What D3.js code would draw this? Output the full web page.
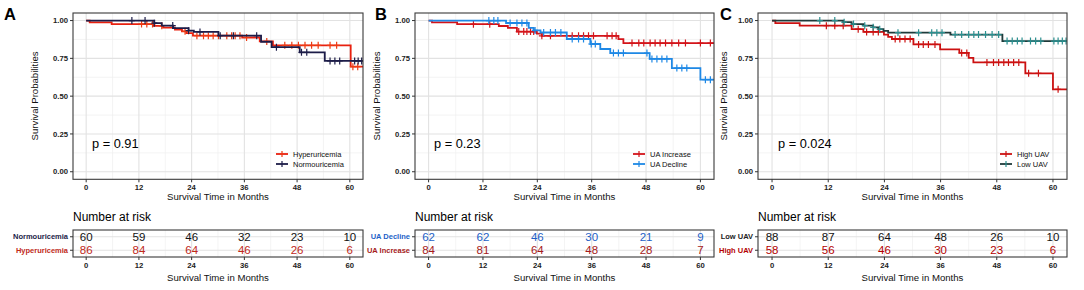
<!DOCTYPE html>
<html>
<head>
<meta charset="utf-8">
<script src="https://cdn.jsdelivr.net/npm/d3@7"></script>
<style>
body{margin:0;background:#fff;}
svg{font-family:"Liberation Sans",Arial,sans-serif;}
</style>
</head>
<body>
<svg id="chart" width="1084" height="290"></svg>
<script>
// axis ticks
let timeTicks = [0, 12, 24, 36, 48, 60];
let timeMinor = [6, 18, 30, 42, 54];
let survTicks = [0, 0.25, 0.5, 0.75, 1];
let survMinor = [0.125, 0.375, 0.625, 0.875];

// panel A
let hyperTimes = [0, 0.8, 5.8, 15.2, 17.5, 20.2, 21.8, 22.8, 24.3, 35.5, 39.5, 42.5, 60.2];
let hyperSurv = [1, 0.988, 0.977, 0.965, 0.953, 0.941, 0.929, 0.917, 0.900, 0.888, 0.862, 0.836, 0.695];
let hyperCensor = [12.6, 13.8, 15.1, 17.2, 22.5, 25.2, 26.7, 27.8, 28.9, 30.1, 32, 33.1, 33.9, 35, 36.5, 41.1, 45.2, 46.8, 48.3, 49.8, 51.3, 52.8, 55.5, 57, 60.7, 61.8];
let normoTimes = [0, 15.5, 17.2, 19.8, 23.3, 24.5, 30.1, 39.8, 42.2, 48.6, 54.3];
let normoSurv = [1, 0.983, 0.967, 0.950, 0.933, 0.925, 0.900, 0.860, 0.824, 0.790, 0.733];
let normoCensor = [10.4, 13.4, 15.5, 19.7, 23.3, 25.9, 30.5, 33.5, 38.8, 43.3, 49, 50.2, 55.5, 56.6, 57.7, 61.1, 61.9, 62.7];
let hyperRisk = [86, 84, 64, 46, 26, 6];
let normoRisk = [60, 59, 46, 32, 23, 10];

// panel B
let incTimes = [0, 0.75, 6.3, 15.5, 17.5, 19.5, 23.9, 25.0, 41.9, 43.0];
let incSurv = [1, 0.988, 0.976, 0.964, 0.952, 0.927, 0.913, 0.899, 0.877, 0.851];
let incCensor = [9.9, 13.5, 19.9, 21, 21.7, 22.5, 23.2, 25, 26.9, 31.7, 33.1, 34.2, 35.3, 36.4, 39.4, 40.5, 41.4, 44.9, 46.4, 47.5, 48.9, 50, 51.1, 52.3, 53.7, 55.2, 56.7, 60, 62.2];
let decTimes = [0, 17.1, 22.1, 23.2, 24.7, 30.5, 35.7, 37.9, 40.1, 48.8, 53.7, 60.0];
let decSurv = [1, 0.984, 0.951, 0.935, 0.921, 0.878, 0.845, 0.812, 0.785, 0.746, 0.686, 0.609];
let decCensor = [13.3, 14.4, 15.3, 18, 19.5, 20.6, 21.7, 23.5, 25.4, 26.9, 28, 29.2, 31.7, 33.1, 34.2, 35.9, 36.8, 40.8, 41.9, 43, 48.2, 49.3, 50.4, 51.5, 52.6, 54.8, 55.9, 57, 61.1, 62.2];
let incRisk = [84, 81, 64, 48, 28, 7];
let decRisk = [62, 62, 46, 30, 21, 9];

// panel C
let highTimes = [0, 0.7, 5.9, 17, 19.5, 23.9, 24.8, 25.6, 30.2, 35.9, 40, 42, 43, 54.1, 60];
let highSurv = [1, 0.983, 0.966, 0.943, 0.925, 0.907, 0.892, 0.878, 0.842, 0.809, 0.786, 0.753, 0.723, 0.651, 0.545];
let highCensor = [11.6, 13.4, 15.2, 18.4, 20.2, 21.6, 22.7, 26.3, 27.3, 28.4, 29.5, 31.3, 32.3, 33.4, 34.8, 40.5, 41.6, 45.9, 47.3, 48.4, 49.5, 50.5, 51.6, 52.7, 54.8, 56.9, 61.1];
let lowTimes = [0, 15.2, 17, 19.5, 21.6, 22.7, 23.8, 24.8, 38.1, 49.2];
let lowSurv = [1, 0.989, 0.977, 0.966, 0.955, 0.943, 0.932, 0.920, 0.907, 0.864];
let lowCensor = [10.2, 13.4, 15.4, 17.4, 19.8, 21.6, 23, 26.9, 31.3, 34.1, 35.2, 36.3, 39.1, 40.5, 42, 43.1, 44.1, 45.6, 47, 48.4, 50.2, 51.3, 52.4, 53.4, 55.2, 56.3, 57.4, 60.2, 61.1, 62, 62.8];
let highRisk = [58, 56, 46, 30, 23, 6];
let lowRisk = [88, 87, 64, 48, 26, 10];

let panels = [
  {letter: 'A', letterX: 4, left: 73, right: 363, ylabX: 34, pText: 'p = 0.91', pX: 92, keyX: 276,
   groups: [
     {name: 'Hyperuricemia', times: hyperTimes, surv: hyperSurv, censor: hyperCensor, risk: hyperRisk, line: '#e8200f', mark: '#ee3a12', label: '#c0291a', num: '#c0291a'},
     {name: 'Normouricemia', times: normoTimes, surv: normoSurv, censor: normoCensor, risk: normoRisk, line: '#1c1c48', mark: '#1c1c48', label: '#1c1c48', num: '#111'}
   ]},
  {letter: 'B', letterX: 375, left: 415, right: 714, ylabX: 376, pText: 'p = 0.23', pX: 434, keyX: 633,
   groups: [
     {name: 'UA Increase', times: incTimes, surv: incSurv, censor: incCensor, risk: incRisk, line: '#d3141a', mark: '#d3141a', label: '#a51a1a', num: '#a51a1a'},
     {name: 'UA Decline', times: decTimes, surv: decSurv, censor: decCensor, risk: decRisk, line: '#1e88e5', mark: '#1e88e5', label: '#1d5fc7', num: '#1d5fc7'}
   ]},
  {letter: 'C', letterX: 720, left: 758, right: 1067, ylabX: 723, pText: 'p = 0.024', pX: 778, keyX: 1000,
   groups: [
     {name: 'High UAV', times: highTimes, surv: highSurv, censor: highCensor, risk: highRisk, line: '#cc1111', mark: '#cc1111', label: '#b30000', num: '#b30000'},
     {name: 'Low UAV', times: lowTimes, surv: lowSurv, censor: lowCensor, risk: lowRisk, line: '#1f3a3a', mark: '#2b8f8f', label: '#222', num: '#111'}
   ]}
];

let svg = d3.select('#chart');

function survAt(times, surv, t) {
  let s = surv[0];
  times.forEach(function(d, i) { if (d <= t) s = surv[i]; });
  return s;
}

function drawPanel(p, idx) {
  let x = d3.scaleLinear().domain([-3, 63]).range([p.left, p.right]);
  let y = d3.scaleLinear().domain([-0.05, 1.05]).range([179.3, 13]);
  let g = svg.append('g').attr('class', 'panel');

  // grid
  g.selectAll('.vmin').data(timeMinor).enter().append('line')
    .attr('x1', d => x(d)).attr('x2', d => x(d)).attr('y1', y.range()[1]).attr('y2', y.range()[0])
    .style('stroke', '#efefef').style('stroke-width', 0.7);
  g.selectAll('.hmin').data(survMinor).enter().append('line')
    .attr('x1', p.left).attr('x2', p.right).attr('y1', d => y(d)).attr('y2', d => y(d))
    .style('stroke', '#efefef').style('stroke-width', 0.7);
  g.selectAll('.vmaj').data(timeTicks).enter().append('line')
    .attr('x1', d => x(d)).attr('x2', d => x(d)).attr('y1', y.range()[1]).attr('y2', y.range()[0])
    .style('stroke', '#e2e2e2').style('stroke-width', 1.1);
  g.selectAll('.hmaj').data(survTicks).enter().append('line')
    .attr('x1', p.left).attr('x2', p.right).attr('y1', d => y(d)).attr('y2', d => y(d))
    .style('stroke', '#e2e2e2').style('stroke-width', 1.1);

  // curves
  let clipId = 'clip' + idx;
  svg.append('clipPath').attr('id', clipId).append('rect')
    .attr('x', p.left).attr('y', 13).attr('width', p.right - p.left).attr('height', 179.3 - 13);
  let curves = g.append('g').attr('clip-path', 'url(#' + clipId + ')');
  let line = d3.line().x(d => x(d[0])).y(d => y(d[1])).curve(d3.curveStepAfter);

  p.groups.forEach(function(gr) {
    let pts = gr.times.map((t, i) => [t, gr.surv[i]]);
    pts.push([63.5, gr.surv[gr.surv.length - 1]]);
    curves.append('path').datum(pts).attr('d', line)
      .style('fill', 'none').style('stroke', gr.line).style('stroke-width', 1.8);
    let marks = curves.append('g').selectAll('g').data(gr.censor).enter().append('g')
      .attr('transform', d => 'translate(' + x(d) + ',' + y(survAt(gr.times, gr.surv, d)) + ')');
    marks.append('line').attr('x1', 0).attr('x2', 0).attr('y1', -3.5).attr('y2', 3.5)
      .style('stroke', gr.mark).style('stroke-width', 1.2);
    marks.append('line').attr('x1', -3).attr('x2', 3).attr('y1', 0).attr('y2', 0)
      .style('stroke', gr.mark).style('stroke-width', 1.2);
  });

  // frame
  g.append('rect').attr('x', p.left).attr('y', 13).attr('width', p.right - p.left).attr('height', 179.3 - 13)
    .style('fill', 'none').style('stroke', '#3a3a3a').style('stroke-width', 1.1);

  // axes
  g.selectAll('.yt').data(survTicks).enter().append('line')
    .attr('x1', p.left - 3).attr('x2', p.left).attr('y1', d => y(d)).attr('y2', d => y(d))
    .style('stroke', '#333').style('stroke-width', 1);
  g.selectAll('.yl').data(survTicks).enter().append('text')
    .attr('x', p.left - 5).attr('y', d => y(d)).attr('dy', '0.35em')
    .attr('text-anchor', 'end').style('font-size', '7.7px').style('font-weight', 'bold').style('fill', '#222')
    .text(d => d3.format('.2f')(d));
  g.selectAll('.xt').data(timeTicks).enter().append('line')
    .attr('x1', d => x(d)).attr('x2', d => x(d)).attr('y1', 179.3).attr('y2', 182.3)
    .style('stroke', '#333').style('stroke-width', 1);
  g.selectAll('.xl').data(timeTicks).enter().append('text')
    .attr('x', d => x(d)).attr('y', 189.8)
    .attr('text-anchor', 'middle').style('font-size', '7.7px').style('font-weight', 'bold').style('fill', '#222')
    .text(d => d);
  g.append('text').attr('x', (p.left + p.right) / 2).attr('y', 199.5)
    .attr('text-anchor', 'middle').style('font-size', '9.6px').style('fill', '#111')
    .text('Survival Time in Months');
  g.append('text').attr('transform', 'translate(' + (p.ylabX + 3.5) + ',96) rotate(-90)')
    .attr('text-anchor', 'middle').style('font-size', '9.6px').style('fill', '#111')
    .text('Survival Probabilities');
  g.append('text').attr('x', p.letterX).attr('y', 19.5)
    .style('font-size', '16.5px').style('font-weight', 'bold').style('fill', '#000')
    .text(p.letter);
  g.append('text').attr('x', p.pX).attr('y', 147.5)
    .style('font-size', '12.8px').style('fill', '#000').text(p.pText);

  // legend
  let leg = g.selectAll('.leg').data(p.groups).enter().append('g')
    .attr('transform', (d, i) => 'translate(' + p.keyX + ',' + (154 + i * 10) + ')');
  leg.append('line').attr('x1', 0).attr('x2', 12).attr('y1', 0).attr('y2', 0)
    .style('stroke', d => d.line).style('stroke-width', 1.8);
  leg.append('line').attr('x1', 6).attr('x2', 6).attr('y1', -3).attr('y2', 3)
    .style('stroke', d => d.mark).style('stroke-width', 1.2);
  leg.append('text').attr('x', 17).attr('y', 0).attr('dy', '0.35em')
    .style('font-size', '7.5px').style('fill', '#111').text(d => d.name);

  // risk table
  let rows = p.groups.slice().reverse();
  let ty = d3.scalePoint().domain(rows.map(d => d.name)).range([230, 257]).padding(0.5);
  g.append('text').attr('x', p.left).attr('y', 221.3)
    .style('font-size', '12px').style('fill', '#000').text('Number at risk');
  g.selectAll('.tvmin').data(timeMinor).enter().append('line')
    .attr('x1', d => x(d)).attr('x2', d => x(d)).attr('y1', 230).attr('y2', 257)
    .style('stroke', '#efefef').style('stroke-width', 0.7);
  g.selectAll('.tvmaj').data(timeTicks).enter().append('line')
    .attr('x1', d => x(d)).attr('x2', d => x(d)).attr('y1', 230).attr('y2', 257)
    .style('stroke', '#e2e2e2').style('stroke-width', 1.1);
  g.selectAll('.thmaj').data(rows).enter().append('line')
    .attr('x1', p.left).attr('x2', p.right).attr('y1', d => ty(d.name)).attr('y2', d => ty(d.name))
    .style('stroke', '#e2e2e2').style('stroke-width', 1.1);
  rows.forEach(function(gr) {
    g.selectAll(null).data(gr.risk).enter().append('text')
      .attr('x', (d, i) => x(timeTicks[i])).attr('y', ty(gr.name)).attr('dy', '0.36em')
      .attr('text-anchor', 'middle').style('font-size', '11.5px').style('fill', gr.num)
      .text(d => d);
  });
  g.append('rect').attr('x', p.left).attr('y', 230).attr('width', p.right - p.left).attr('height', 27)
    .style('fill', 'none').style('stroke', '#3a3a3a').style('stroke-width', 1.1);
  g.selectAll('.tyt').data(rows).enter().append('line')
    .attr('x1', p.left - 3).attr('x2', p.left).attr('y1', d => ty(d.name)).attr('y2', d => ty(d.name))
    .style('stroke', '#333').style('stroke-width', 1);
  g.selectAll('.tyl').data(rows).enter().append('text')
    .attr('x', p.left - 5).attr('y', d => ty(d.name)).attr('dy', '0.35em')
    .attr('text-anchor', 'end').style('font-size', '7.5px').style('font-weight', 'bold')
    .style('fill', d => d.label).text(d => d.name);
  g.selectAll('.txt').data(timeTicks).enter().append('line')
    .attr('x1', d => x(d)).attr('x2', d => x(d)).attr('y1', 257).attr('y2', 260)
    .style('stroke', '#333').style('stroke-width', 1);
  g.selectAll('.txl').data(timeTicks).enter().append('text')
    .attr('x', d => x(d)).attr('y', 267.8)
    .attr('text-anchor', 'middle').style('font-size', '7.7px').style('font-weight', 'bold').style('fill', '#222')
    .text(d => d);
  g.append('text').attr('x', (p.left + p.right) / 2).attr('y', 280.5)
    .attr('text-anchor', 'middle').style('font-size', '9.6px').style('fill', '#111')
    .text('Survival Time in Months');
}

panels.forEach(drawPanel);
</script>
</body>
</html>
